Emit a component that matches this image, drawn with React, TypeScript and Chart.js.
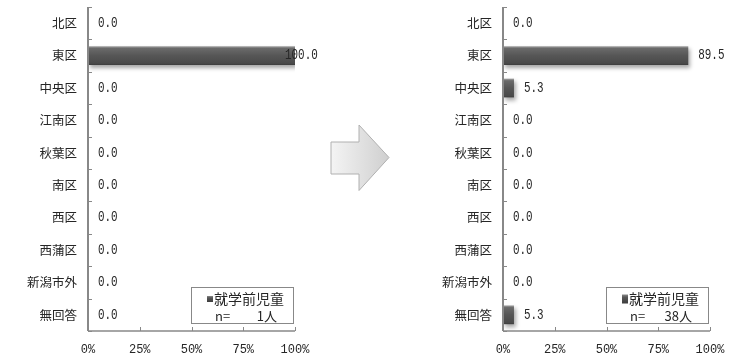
import React, { useEffect, useRef } from 'react';
import { Chart, registerables } from 'chart.js';
Chart.register(...registerables);

const categories = ['北区', '東区', '中央区', '江南区', '秋葉区', '南区', '西区', '西蒲区', '新潟市外', '無回答'];
const beforeValues = [0, 100, 0, 0, 0, 0, 0, 0, 0, 0];
const afterValues = [0, 89.5, 5.3, 0, 0, 0, 0, 0, 0, 5.3];
const xTicks = [0, 25, 50, 75, 100];
const seriesName = '就学前児童';
const beforeN = '1人';
const afterN = '38人';

const TEXT = '#262626';
const AXIS = '#888888';
const JP = "'Noto Sans CJK JP', sans-serif";
const MONO = "'Liberation Mono', monospace";

function barFill(ctx: any) {
  const chart = ctx.chart;
  if (ctx.type !== 'data' || !chart.chartArea) return '#555555';
  const y = chart.scales.y.getPixelForValue(ctx.dataIndex);
  const h = 19;
  const g = chart.ctx.createLinearGradient(0, y - h / 2, 0, y + h / 2);
  g.addColorStop(0, '#a8a8a8');
  g.addColorStop(0.12, '#6a6a6a');
  g.addColorStop(0.5, '#565656');
  g.addColorStop(0.9, '#4a4a4a');
  g.addColorStop(1, '#3c3c3c');
  return g;
}

const shadowPlugin = {
  id: 'shadow',
  beforeDatasetDraw(chart: any) {
    const c = chart.ctx;
    c.save();
    c.shadowColor = 'rgba(0,0,0,0.35)';
    c.shadowBlur = 4;
    c.shadowOffsetX = 2;
    c.shadowOffsetY = 3;
  },
  afterDatasetDraw(chart: any) {
    chart.ctx.restore();
  },
};

const axesPlugin = {
  id: 'axesLines',
  afterDatasetsDraw(chart: any) {
    const c = chart.ctx;
    const { left, right, top, bottom } = chart.chartArea;
    c.save();
    c.strokeStyle = AXIS;
    c.lineWidth = 2;
    c.beginPath();
    c.moveTo(left, top);
    c.lineTo(left, bottom);
    c.stroke();
    c.lineWidth = 1;
    const n = categories.length;
    for (let i = 0; i <= n; i++) {
      const y = Math.round(top + ((bottom - top) * i) / n) + 0.5;
      c.beginPath();
      c.moveTo(left, y);
      c.lineTo(left + 4, y);
      c.stroke();
    }
    c.lineWidth = 1.5;
    c.beginPath();
    c.moveTo(left, bottom);
    c.lineTo(right, bottom);
    c.stroke();
    c.lineWidth = 1;
    const xs = chart.scales.x;
    xTicks.forEach((v) => {
      const x = Math.round(xs.getPixelForValue(v)) + 0.5;
      c.beginPath();
      c.moveTo(x, bottom);
      c.lineTo(x, bottom - 4);
      c.stroke();
    });
    c.restore();
  },
};

const valuePlugin = {
  id: 'valueLabels',
  afterDatasetsDraw(chart: any) {
    const c = chart.ctx;
    const meta = chart.getDatasetMeta(0);
    const data = chart.data.datasets[0].data as number[];
    c.save();
    c.font = `14px ${MONO}`;
    c.fillStyle = TEXT;
    c.textBaseline = 'middle';
    c.textAlign = 'left';
    meta.data.forEach((bar: any, i: number) => {
      const x = Math.min(bar.x + 10, chart.chartArea.right - 10);
      c.save();
      c.translate(x, bar.y);
      c.scale(0.78, 1);
      c.fillText(data[i].toFixed(1), 0, 0);
      c.restore();
    });
    c.restore();
  },
};

function makeLegendPlugin(nText: string, markerH: number) {
  return {
    id: 'boxLegend',
    afterDraw(chart: any) {
      const c = chart.ctx;
      const { right, bottom } = chart.chartArea;
      const bx = right - 104;
      const by = bottom - 44;
      const bw = 102;
      const bh = 36;
      c.save();
      c.fillStyle = '#ffffff';
      c.fillRect(bx, by, bw, bh);
      c.strokeStyle = AXIS;
      c.lineWidth = 1;
      c.strokeRect(bx + 0.5, by + 0.5, bw, bh);
      const ly = by + 12;
      const g = c.createLinearGradient(0, ly - markerH / 2, 0, ly + markerH / 2);
      g.addColorStop(0, '#8a8a8a');
      g.addColorStop(0.3, '#585858');
      g.addColorStop(1, '#3c3c3c');
      c.fillStyle = g;
      c.fillRect(bx + 16, ly - markerH / 2, 6, markerH);
      c.fillStyle = TEXT;
      c.font = `14px ${JP}`;
      c.textBaseline = 'middle';
      c.textAlign = 'left';
      c.fillText(chart.data.datasets[0].label, bx + 23, ly);
      c.font = `13px ${JP}`;
      c.fillText('n=', bx + 24, by + 29);
      c.textAlign = 'right';
      c.fillText(nText, bx + bw - 16, by + 29);
      c.restore();
    },
  };
}

function BarPanel({ values, nText, markerH, left }: { values: number[]; nText: string; markerH: number; left: number }) {
  const ref = useRef<HTMLCanvasElement>(null);
  useEffect(() => {
    const canvas = ref.current!;
    const chart = new Chart(canvas, {
      type: 'bar',
      data: {
        labels: categories,
        datasets: [
          {
            label: seriesName,
            data: values,
            backgroundColor: barFill as any,
            borderWidth: 0,
            barPercentage: 0.58,
            categoryPercentage: 1,
          },
        ],
      },
      options: {
        indexAxis: 'y',
        responsive: false,
        animation: false,
        layout: { padding: { left: 0, top: 7, right: 32, bottom: 0 } },
        plugins: { legend: { display: false }, tooltip: { enabled: false } },
        scales: {
          x: {
            min: 0,
            max: 100,
            afterBuildTicks: (s: any) => {
              s.ticks = xTicks.map((v) => ({ value: v }));
            },
            afterFit: (s: any) => {
              s.height = 25;
              s.paddingLeft = 0;
              s.paddingRight = 0;
            },
            grid: { display: false, drawTicks: false },
            border: { display: false },
            ticks: {
              callback: (v: any) => v + '%',
              font: { family: MONO, size: 12 },
              color: TEXT,
              padding: 12,
              maxRotation: 0,
              autoSkip: false,
            },
          },
          y: {
            afterFit: (s: any) => {
              s.width = 88;
              s.paddingTop = 0;
              s.paddingBottom = 0;
            },
            grid: { display: false, drawTicks: false },
            border: { display: false },
            ticks: {
              font: { family: JP, size: 12.5 },
              color: TEXT,
              padding: 11,
              autoSkip: false,
            },
          },
        },
      },
      plugins: [shadowPlugin, axesPlugin, valuePlugin, makeLegendPlugin(nText, markerH)],
    });
    return () => chart.destroy();
  }, []);
  return (
    <canvas
      ref={ref}
      width={327}
      height={356}
      style={{ position: 'absolute', left, top: 0, width: 327, height: 356 }}
    />
  );
}

function Arrow() {
  return (
    <svg width={742} height={356} style={{ position: 'absolute', left: 0, top: 0, pointerEvents: 'none' }}>
      <defs>
        <linearGradient id="arrowGrad" x1="0" y1="0" x2="1" y2="0">
          <stop offset="0" stopColor="#f4f4f4" />
          <stop offset="1" stopColor="#cfcfcf" />
        </linearGradient>
      </defs>
      <polygon
        points="331,142 359,142 359,125 389,157.5 359,190.5 359,174 331,174"
        fill="url(#arrowGrad)"
        stroke="#b0b0b0"
        strokeWidth={1}
      />
    </svg>
  );
}

export default function App() {
  return (
    <div style={{ position: 'fixed', left: 0, top: 0, width: 742, height: 356, background: '#ffffff' }}>
      <BarPanel values={beforeValues} nText={beforeN} markerH={6} left={0} />
      <Arrow />
      <BarPanel values={afterValues} nText={afterN} markerH={9} left={415} />
    </div>
  );
}
